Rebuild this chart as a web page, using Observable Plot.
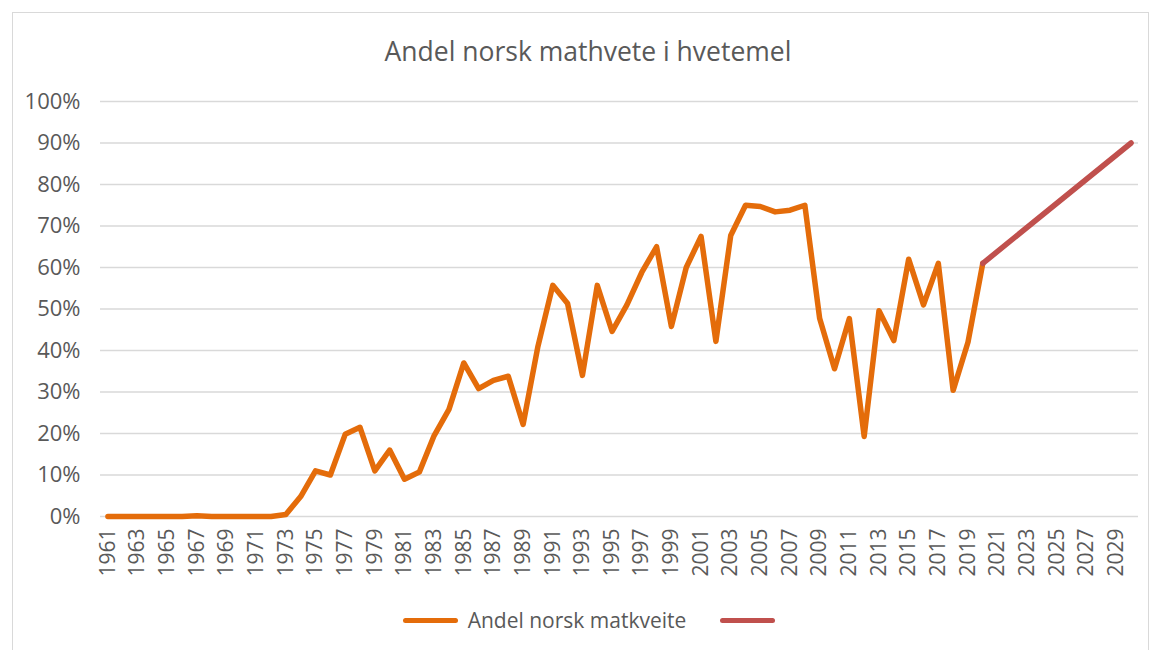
<!DOCTYPE html>
<html><head><meta charset="utf-8">
<script src="https://cdn.jsdelivr.net/npm/d3@7"></script>
<script src="https://cdn.jsdelivr.net/npm/@observablehq/plot@0.6"></script>
<style>
body{margin:0;background:#fff;font-family:"Open Sans",sans-serif;width:1154px;height:650px;overflow:hidden;position:relative;}
#frame{position:absolute;left:12px;top:12px;width:1137px;height:660px;border:1px solid #d9d9d9;box-sizing:border-box;}
#title{position:absolute;left:0;top:34px;width:1176px;text-align:center;font-size:26.5px;line-height:34px;color:#595959;font-weight:400;}
#chart{position:absolute;left:0;top:80px;}
#legend{position:absolute;left:0;top:605px;width:1154px;height:30px;display:flex;justify-content:center;align-items:center;font-size:21px;color:#595959;}
#legend .sw{display:inline-block;width:55px;height:5px;border-radius:3px;}
</style></head>
<body>
<div id="frame"></div>
<div id="title">Andel norsk mathvete i hvetemel</div>
<div id="chart"></div>
<div id="legend">
  <span class="sw" style="background:#E46C0A;margin-left:24px"></span>
  <span style="margin-left:10px">Andel norsk matkveite</span>
  <span class="sw" style="background:#C0504D;margin-left:34px"></span>
</div>
<script>
const years = [1961,1962,1963,1964,1965,1966,1967,1968,1969,1970,1971,1972,1973,1974,1975,1976,1977,1978,1979,1980,1981,1982,1983,1984,1985,1986,1987,1988,1989,1990,1991,1992,1993,1994,1995,1996,1997,1998,1999,2000,2001,2002,2003,2004,2005,2006,2007,2008,2009,2010,2011,2012,2013,2014,2015,2016,2017,2018,2019,2020];
const shares = [0,0,0,0,0,0,0.002,0,0,0,0,0,0.005,0.048,0.11,0.10,0.198,0.215,0.11,0.16,0.09,0.107,0.195,0.258,0.37,0.308,0.328,0.338,0.222,0.41,0.557,0.513,0.34,0.557,0.446,0.51,0.588,0.65,0.458,0.60,0.675,0.422,0.677,0.75,0.747,0.734,0.738,0.75,0.477,0.356,0.477,0.193,0.496,0.424,0.62,0.51,0.61,0.304,0.42,0.61];
const targetYears = [2020, 2030];
const targetShares = [0.61, 0.90];
const xTicks = [1961,1963,1965,1967,1969,1971,1973,1975,1977,1979,1981,1983,1985,1987,1989,1991,1993,1995,1997,1999,2001,2003,2005,2007,2009,2011,2013,2015,2017,2019,2021,2023,2025,2027,2029];
const yTicks = [0,0.1,0.2,0.3,0.4,0.5,0.6,0.7,0.8,0.9,1.0];

const hist = years.map((y,i)=>({year:y, share:shares[i]}));
const target = targetYears.map((y,i)=>({year:y, share:targetShares[i]}));

const chart = Plot.plot({
  width: 1154, height: 510,
  marginLeft: 100, marginRight: 16, marginTop: 21, marginBottom: 74,
  style: {fontFamily: "'Open Sans', sans-serif", fontSize: "21px", color: "#595959", background: "transparent"},
  x: {domain: [1960.5, 2030.5], label: null},
  y: {domain: [0, 1], label: null},
  marks: [
    Plot.gridY(yTicks, {stroke: "#d9d9d9", strokeOpacity: 1, strokeWidth: 1.5}),
    Plot.axisY(yTicks, {tickFormat: d => Math.round(d*100) + "%", tickSize: 0, tickPadding: 20, fontSize: 22, fill: "#595959"}),
    Plot.axisX(xTicks, {tickFormat: d => String(d), tickSize: 0, tickPadding: 12, tickRotate: -90, fontSize: 21, fill: "#595959"}),
    Plot.line(hist, {x: "year", y: "share", stroke: "#E46C0A", strokeWidth: 5.5, strokeLinejoin: "round", strokeLinecap: "round"}),
    Plot.line(target, {x: "year", y: "share", stroke: "#C0504D", strokeWidth: 5.5, strokeLinejoin: "round", strokeLinecap: "round"})
  ]
});
document.getElementById("chart").appendChild(chart);
</script>
</body></html>
